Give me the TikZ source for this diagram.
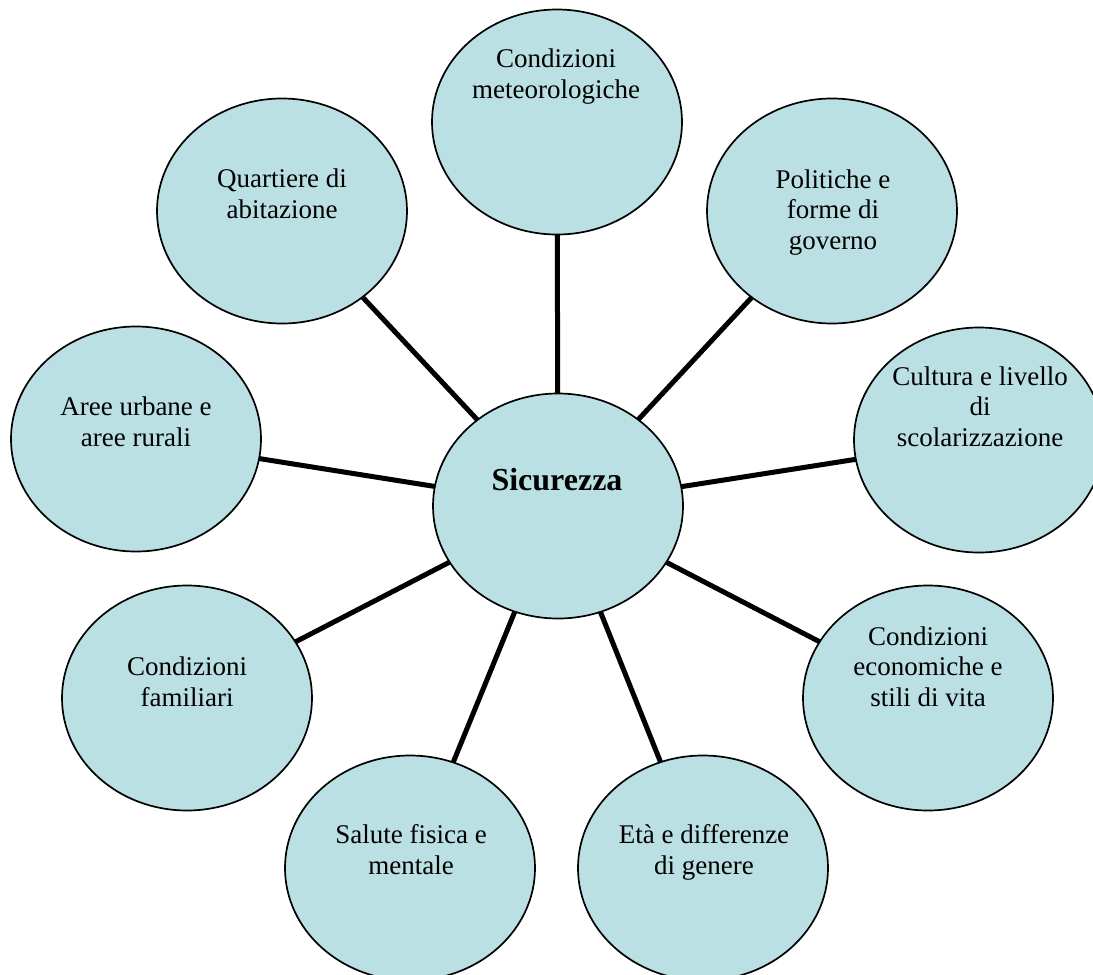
\documentclass[tikz,border=0pt]{standalone}
\usepackage{fontspec}
\setmainfont{Liberation Serif}
\usetikzlibrary{shapes.geometric}
\definecolor{bubblefill}{RGB}{186,224,227}
\begin{document}
\begin{tikzpicture}[x=1pt,y=-1pt,
  bubble/.style={ellipse, draw=black, line width=1.7pt, fill=bubblefill,
    minimum width=250pt, minimum height=225pt, inner sep=0pt, outer sep=0pt},
  link/.style={line width=5pt, draw=black},
  % labels are placed by the baseline of their last line
  lbl/.style={align=center, font=\fontsize{27}{30.5}\selectfont, anchor=base, inner sep=0pt},
  hub/.style={font=\fontsize{32}{36}\selectfont\bfseries, anchor=base, inner sep=0pt}]
\useasboundingbox (0,0) rectangle (1093,975);

% bubbles
\node[bubble] (sic)   at (558,506) {};
\node[bubble] (meteo) at (557,122) {};
\node[bubble] (quart) at (282,211) {};
\node[bubble] (polit) at (832,211) {};
\node[bubble] (aree)  at (136,439) {};
\node[bubble] (cult)  at (979,440) {};
\node[bubble] (fam)   at (187,698) {};
\node[bubble] (econ)  at (928,698) {};
\node[bubble] (sal)   at (410,868) {};
\node[bubble] (eta)   at (703,868) {};

% spokes
\foreach \n in {meteo,quart,polit,aree,cult,fam,econ,sal,eta}
  \draw[link] (sic) -- (\n);

% labels
\node[hub] (t-sic)   at (557,490) {Sicurezza};
\node[lbl] (t-meteo) at (556,98)  {Condizioni\\meteorologiche};
\node[lbl] (t-quart) at (282,218) {Quartiere di\\abitazione};
\node[lbl] (t-polit) at (833,249) {Politiche e\\forme di\\governo};
\node[lbl] (t-aree)  at (136,446) {Aree urbane e\\aree rurali};
\node[lbl] (t-cult)  at (980,446) {Cultura e livello\\di\\scolarizzazione};
\node[lbl] (t-fam)   at (187,706) {Condizioni\\familiari};
\node[lbl] (t-econ)  at (928,706) {Condizioni\\economiche e\\stili di vita};
\node[lbl] (t-sal)   at (411,874) {Salute fisica e\\mentale};
\node[lbl] (t-eta)   at (704,874) {Età e differenze\\di genere};
\end{tikzpicture}
\end{document}
